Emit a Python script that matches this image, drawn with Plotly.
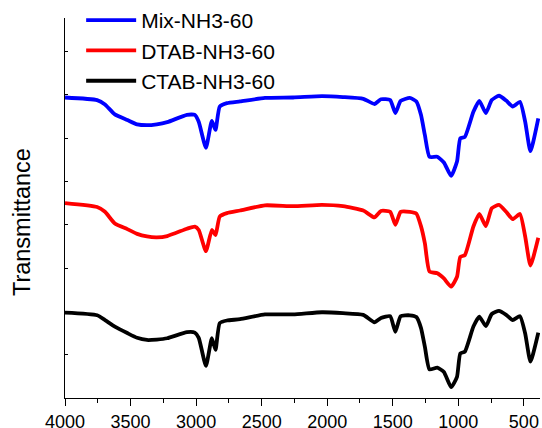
import plotly.graph_objects as go

# Wavenumber grid (cm-1) shared by the three spectra
wavenumber = [4000, 3755, 3695, 3620, 3525, 3450, 3375, 3300, 3220, 3070,
              3010, 2980, 2925, 2880, 2852, 2820, 2765, 2665, 2475, 2260,
              2040, 1880, 1725, 1640, 1590, 1520, 1480, 1440, 1370, 1320,
              1285, 1255, 1220, 1160, 1110, 1055, 1010, 985, 950, 885,
              840, 790, 745, 690, 635, 585, 530, 490, 450, 390]

# Transmittance (offset, arbitrary units)
mix_nh3_60 = [6.94, 6.88, 6.78, 6.55, 6.42, 6.32, 6.30, 6.32, 6.37, 6.54,
              6.54, 6.38, 5.78, 6.40, 6.19, 6.73, 6.81, 6.85, 6.93, 6.94,
              6.97, 6.95, 6.91, 6.79, 6.90, 6.88, 6.58, 6.86, 6.93, 6.85,
              6.54, 6.07, 5.57, 5.57, 5.44, 5.13, 5.46, 6.00, 6.03, 6.61,
              6.86, 6.58, 6.88, 6.98, 6.87, 6.73, 6.84, 6.38, 5.70, 6.46]

dtab_nh3_60 = [4.50, 4.41, 4.30, 4.03, 3.90, 3.79, 3.73, 3.71, 3.74, 3.91,
               3.96, 3.88, 3.39, 3.88, 3.76, 4.19, 4.27, 4.33, 4.45, 4.43,
               4.46, 4.43, 4.33, 4.17, 4.32, 4.30, 4.00, 4.30, 4.30, 4.26,
               3.97, 3.57, 2.92, 2.88, 2.76, 2.57, 2.80, 3.26, 3.30, 3.96,
               4.25, 3.97, 4.38, 4.46, 4.30, 4.13, 4.25, 3.73, 3.06, 3.70]

ctab_nh3_60 = [1.97, 1.91, 1.80, 1.65, 1.50, 1.39, 1.34, 1.35, 1.38, 1.52,
               1.51, 1.39, 0.74, 1.38, 1.11, 1.73, 1.79, 1.82, 1.93, 1.93,
               1.98, 1.96, 1.92, 1.75, 1.85, 1.89, 1.53, 1.89, 1.91, 1.87,
               1.62, 1.18, 0.66, 0.70, 0.60, 0.25, 0.49, 1.03, 1.07, 1.65,
               1.88, 1.66, 1.94, 2.01, 1.92, 1.80, 1.89, 1.49, 0.84, 1.51]

series = [
    ("Mix-NH3-60", mix_nh3_60, "#0000FF"),
    ("DTAB-NH3-60", dtab_nh3_60, "#FF0000"),
    ("CTAB-NH3-60", ctab_nh3_60, "#000000"),
]

x_ticks = [4000, 3500, 3000, 2500, 2000, 1500, 1000, 500]

fig = go.Figure()
for name, vals, color in series:
    fig.add_trace(go.Scatter(
        x=wavenumber, y=vals, mode="lines", name=name,
        line=dict(color=color, width=3.8, shape="spline", smoothing=0.5),
    ))

fig.update_layout(
    width=542, height=428,
    margin=dict(l=65, r=2, t=18, b=30, autoexpand=False),
    paper_bgcolor="white", plot_bgcolor="white",
    font=dict(family="Arial, Liberation Sans, sans-serif", color="black"),
    showlegend=True,
    legend=dict(
        x=0.034, xanchor="left",
        y=1.0, yref="container", yanchor="top",
        font=dict(size=21, color="black"),
        bgcolor="rgba(0,0,0,0)", itemwidth=50,
    ),
    xaxis=dict(
        range=[4000, 377], tickvals=x_ticks, automargin=False,
        ticks="outside", ticklen=7, tickwidth=1.2, tickcolor="black",
        showline=True, linecolor="black", linewidth=1.2,
        showgrid=False, zeroline=False,
        tickfont=dict(size=18, color="black"),
        minor=dict(dtick=250, ticks="outside", ticklen=4, tickcolor="black", tickwidth=1.2, showgrid=False),
    ),
    yaxis=dict(
        range=[0, 8.776], dtick=1, tick0=0, automargin=False,
        ticks="inside", ticklen=3, tickcolor="black", tickwidth=1,
        showticklabels=False,
        showline=True, linecolor="black", linewidth=1.2,
        showgrid=False, zeroline=False,
    ),
    annotations=[dict(
        text="Transmittance", xref="paper", yref="paper",
        x=-0.0905, y=0.463, xanchor="center", yanchor="middle",
        textangle=-90, showarrow=False,
        font=dict(size=23.5, color="black"),
    )],
)

fig.write_html(
    "out.html",
    config={"displayModeBar": False},
    post_script="document.body.style.margin='0';document.body.style.overflow='hidden';",
)
